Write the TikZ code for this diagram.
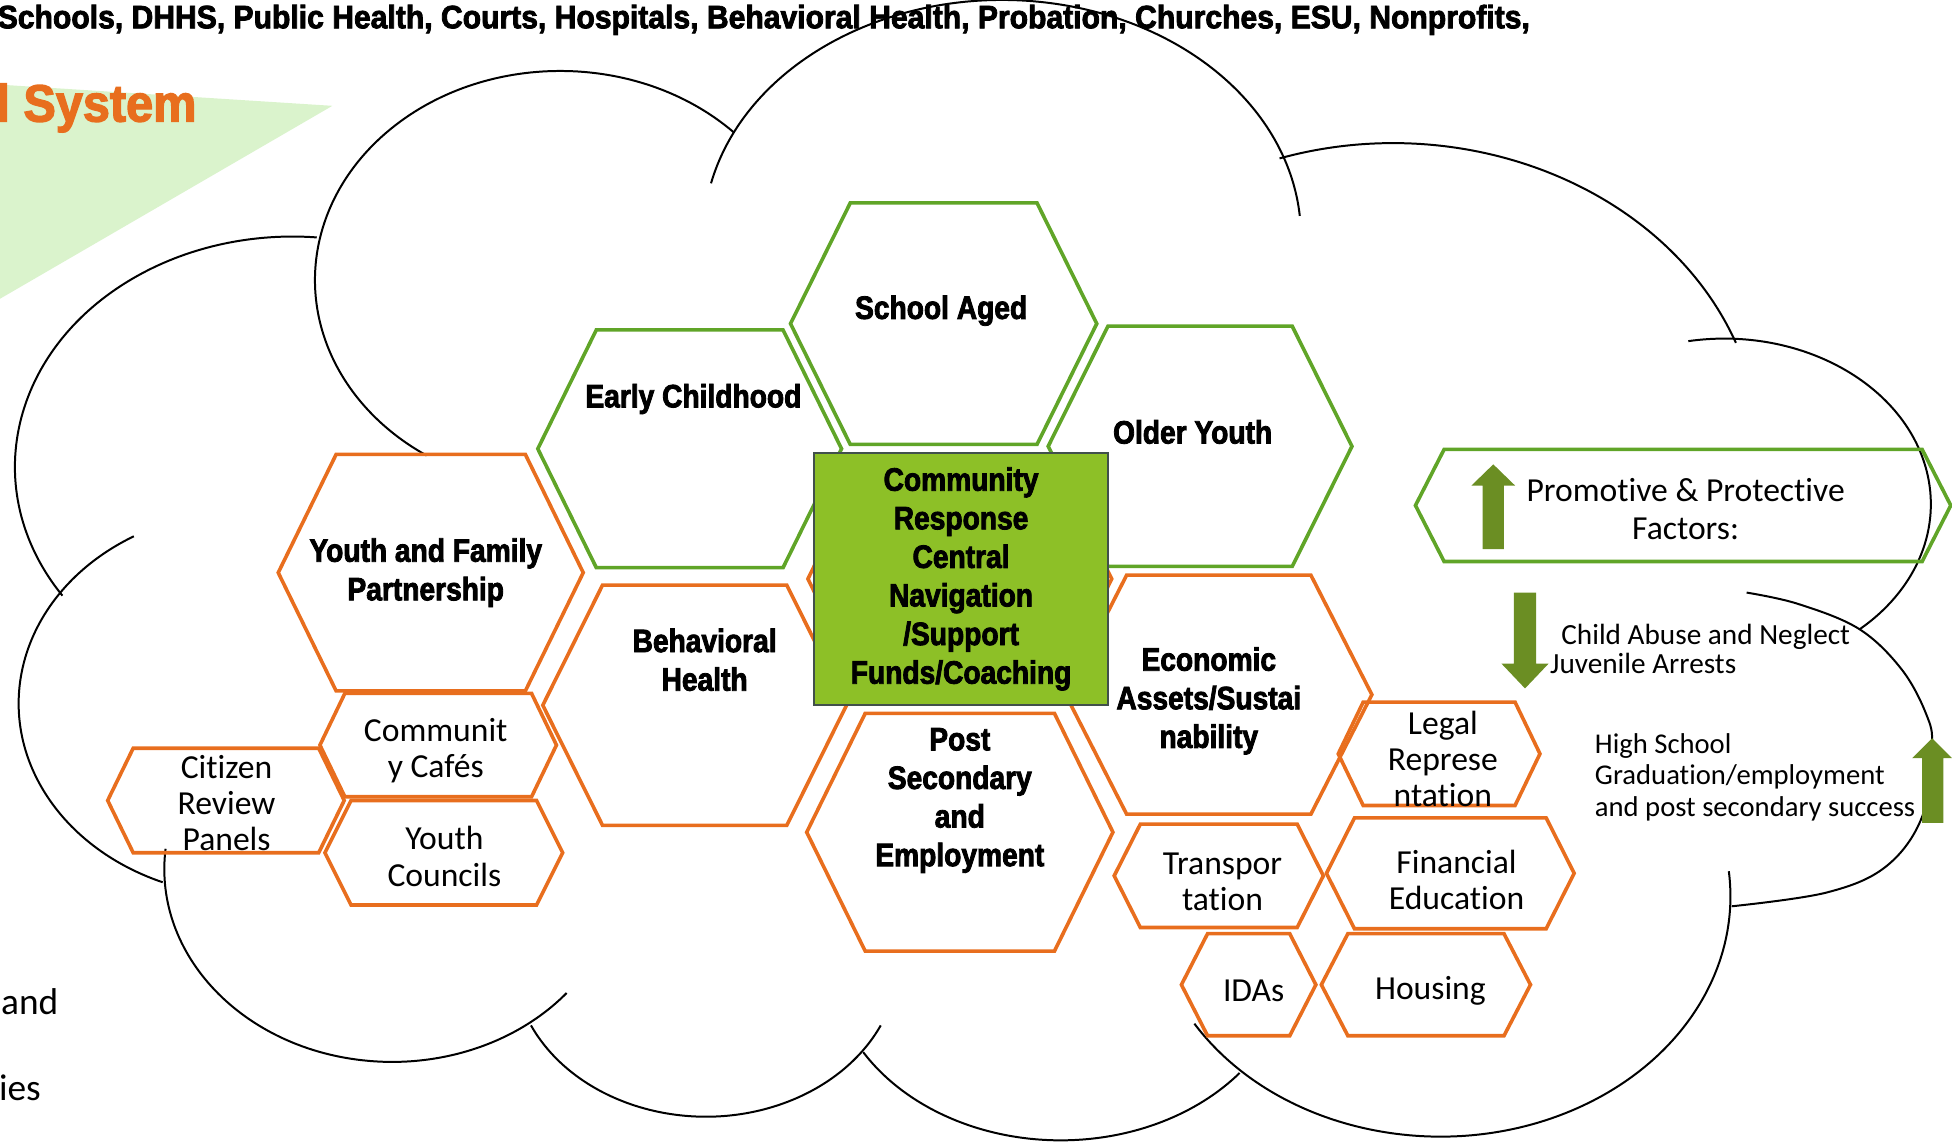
\documentclass[tikz,border=0pt]{standalone}
\usepackage{fontspec}
\setmainfont{Carlito}[Ligatures=NoCommon]
\newfontfamily\condfont[FakeStretch=0.87,BoldFeatures={FakeBold=2.5}]{Liberation Sans}
\newfontfamily\topfont[FakeStretch=0.93,BoldFeatures={FakeBold=2.5}]{Liberation Sans}
\definecolor{hexgreen}{RGB}{96,165,40}
\definecolor{hexorange}{RGB}{232,110,30}
\definecolor{boxgreen}{RGB}{141,192,39}
\definecolor{boxborder}{RGB}{65,80,75}
\definecolor{arrowgreen}{RGB}{107,142,35}
\definecolor{trigreen}{RGB}{218,243,204}
\newcommand\hexshape[6]{%
  \draw[#6] ({#1-#4},{-(#2)}) -- ({#1-#3},{-(#2)+#5}) -- ({#1+#3},{-(#2)+#5})
    -- ({#1+#4},{-(#2)}) -- ({#1+#3},{-(#2)-#5}) -- ({#1-#3},{-(#2)-#5}) -- cycle;}
\newcommand\lobe[6]{%
  \draw[cloudline] ({#1+#3*cos(#5)},{-(#2)+#4*sin(#5)})
    arc[start angle=#5, end angle=#6, x radius=#3pt, y radius=#4pt];}
\tikzset{
  hexg/.style={draw=hexgreen, line width=2.9pt},
  hexo/.style={draw=hexorange, line width=2.9pt},
  cloudline/.style={draw=black, line width=1.6pt},
  lbl/.style={font=\condfont\bfseries\fontsize{26}{31}\selectfont, align=center, inner sep=0pt},
  sm/.style={font=\fontsize{27}{29}\selectfont, align=center, inner sep=0pt},
  note/.style={font=\fontsize{23.5}{25}\selectfont, anchor=base west, inner sep=0pt},
  crbox/.style={draw=boxborder, fill=boxgreen, line width=1.5pt, minimum width=236pt,
    minimum height=202pt, align=center, inner sep=0pt,
    font=\condfont\bfseries\fontsize{26}{31}\selectfont},
}
\begin{document}
\begin{tikzpicture}[x=1pt,y=1pt]
\useasboundingbox (0,0) rectangle (1568,-921);
% light green triangle
\fill[trigreen] (0,-68) -- (267,-85) -- (0,-240) -- cycle;
% cloud lobes
\lobe{235}{375}{223}{185}{214}{85}
\lobe{450}{225}{197}{168}{45}{237}
\lobe{805}{190}{240}{190}{167}{5}
\lobe{1119}{365}{295}{250}{108}{21}
\lobe{1385}{405}{166}{133}{100}{-49}
\draw[cloudline] plot[smooth, tension=0.6] coordinates {(1403,-476) (1444,-485) (1493,-505) (1527,-537) (1547,-573) (1552,-600) (1544,-656) (1515,-696) (1467,-717) (1391,-728)};
\lobe{1157}{720}{233}{193}{212}{366}
\lobe{852}{770}{185}{146}{211}{321}
\lobe{567}{770}{155}{127}{205}{335}
\lobe{315}{698}{183}{155}{174}{320}
\lobe{200}{565}{185}{155}{120}{248}
% hexagons
\hexshape{758}{260}{75}{123}{97}{hexg}
\hexshape{554}{360.5}{75}{122}{95.5}{hexg}
\hexshape{964}{358.5}{74}{122}{96.5}{hexg}
\hexshape{771}{465}{75}{122}{96}{hexo}
\hexshape{346}{460}{76}{122.5}{95}{hexo}
\hexshape{558}{566.5}{74}{122}{96.5}{hexo}
\hexshape{771}{668.5}{76}{123}{95.5}{hexo}
\hexshape{979}{558}{74}{123}{96}{hexo}
\hexshape{352}{598.5}{75}{95}{41.5}{hexo}
\hexshape{181.5}{643}{74.5}{95}{42}{hexo}
\hexshape{356.5}{685}{74.5}{95.5}{42}{hexo}
\hexshape{1156}{605.5}{61}{81}{41.5}{hexo}
\hexshape{979}{703.5}{63}{84}{41.5}{hexo}
\hexshape{1165}{701.5}{77}{99.5}{44.5}{hexo}
\hexshape{1003}{791}{33}{54}{41}{hexo}
\hexshape{1145.4}{791}{62.7}{84}{41}{hexo}
\hexshape{1352}{406}{192}{215}{45}{hexg}
% central box
\node[crbox] (crc) at (772,-465) {Community\\Response\\Central\\Navigation\\/Support\\Funds/Coaching};
% arrows
\fill[arrowgreen] (1191,-441) -- (1191,-390) -- (1182,-390) -- (1199.5,-373) -- (1217,-390) -- (1208,-390) -- (1208,-441) -- cycle;
\fill[arrowgreen] (1216,-476) -- (1234,-476) -- (1234,-533) -- (1244,-533) -- (1225,-553) -- (1206,-533) -- (1216,-533) -- cycle;
\fill[arrowgreen] (1544,-661) -- (1544,-609) -- (1536,-609) -- (1552,-593) -- (1568,-609) -- (1561,-609) -- (1561,-661) -- cycle;
% header texts
\node[anchor=base west, inner sep=0pt, font=\topfont\bfseries\fontsize{26}{30}\selectfont] (orgs) at (-2,-22.7)
  {Schools, DHHS, Public Health, Courts, Hospitals, Behavioral Health, Probation, Churches, ESU, Nonprofits,};
\node[anchor=base east, inner sep=0pt, text=hexorange, font=\topfont\bfseries\fontsize{42}{46}\selectfont] (system) at (158,-97.6) {l System};
\node[anchor=base east, inner sep=0pt, font=\fontsize{30}{32}\selectfont] (andtxt) at (47,-815) {and};
\node[anchor=base east, inner sep=0pt, font=\fontsize{30}{32}\selectfont] (iestxt) at (33,-884) {ies};
% hexagon labels
\node[lbl] (school) at (756,-249.5) {School Aged};
\node[lbl] (early) at (557,-320.5) {Early Childhood};
\node[lbl] (older) at (958,-347) {Older Youth};
\node[lbl] (yfp) at (342,-460) {Youth and Family\\Partnership};
\node[lbl] (beh) at (566,-530) {Behavioral\\Health};
\node[lbl] (post) at (771,-643) {Post\\Secondary\\and\\Employment};
\node[lbl] (econ) at (971,-563) {Economic\\Assets/Sustai\\nability};
\node[sm] (cafe) at (350,-603) {Communit\\y Cafés};
\node[sm] (citizen) at (182,-645) {Citizen\\Review\\Panels};
\node[sm] (councils) at (357,-688) {Youth\\Councils};
\node[sm] (legal) at (1159,-609.5) {Legal\\Represe\\ntation};
\node[sm] (transp) at (982,-708.5) {Transpor\\tation};
\node[sm] (fin) at (1170,-707) {Financial\\Education};
\node[sm] (idas) at (1007,-796) {IDAs};
\node[sm] (housing) at (1149,-796) {Housing};
\node[align=center, inner sep=0pt, font=\fontsize{27}{31}\selectfont] (prom) at (1354,-409) {Promotive \& Protective\\Factors:};
% outcome notes
\node[note] (cabuse) at (1254,-518) {Child Abuse and Neglect};
\node[note] (juv) at (1245,-541) {Juvenile Arrests};
\node[note, font=\fontsize{23}{25}\selectfont] (hs1) at (1281,-605) {High School};
\node[note, font=\fontsize{23}{25}\selectfont] (hs2) at (1281,-630) {Graduation/employment};
\node[note, font=\fontsize{23}{25}\selectfont] (hs3) at (1281,-655.5) {and post secondary success};
\end{tikzpicture}
\end{document}
